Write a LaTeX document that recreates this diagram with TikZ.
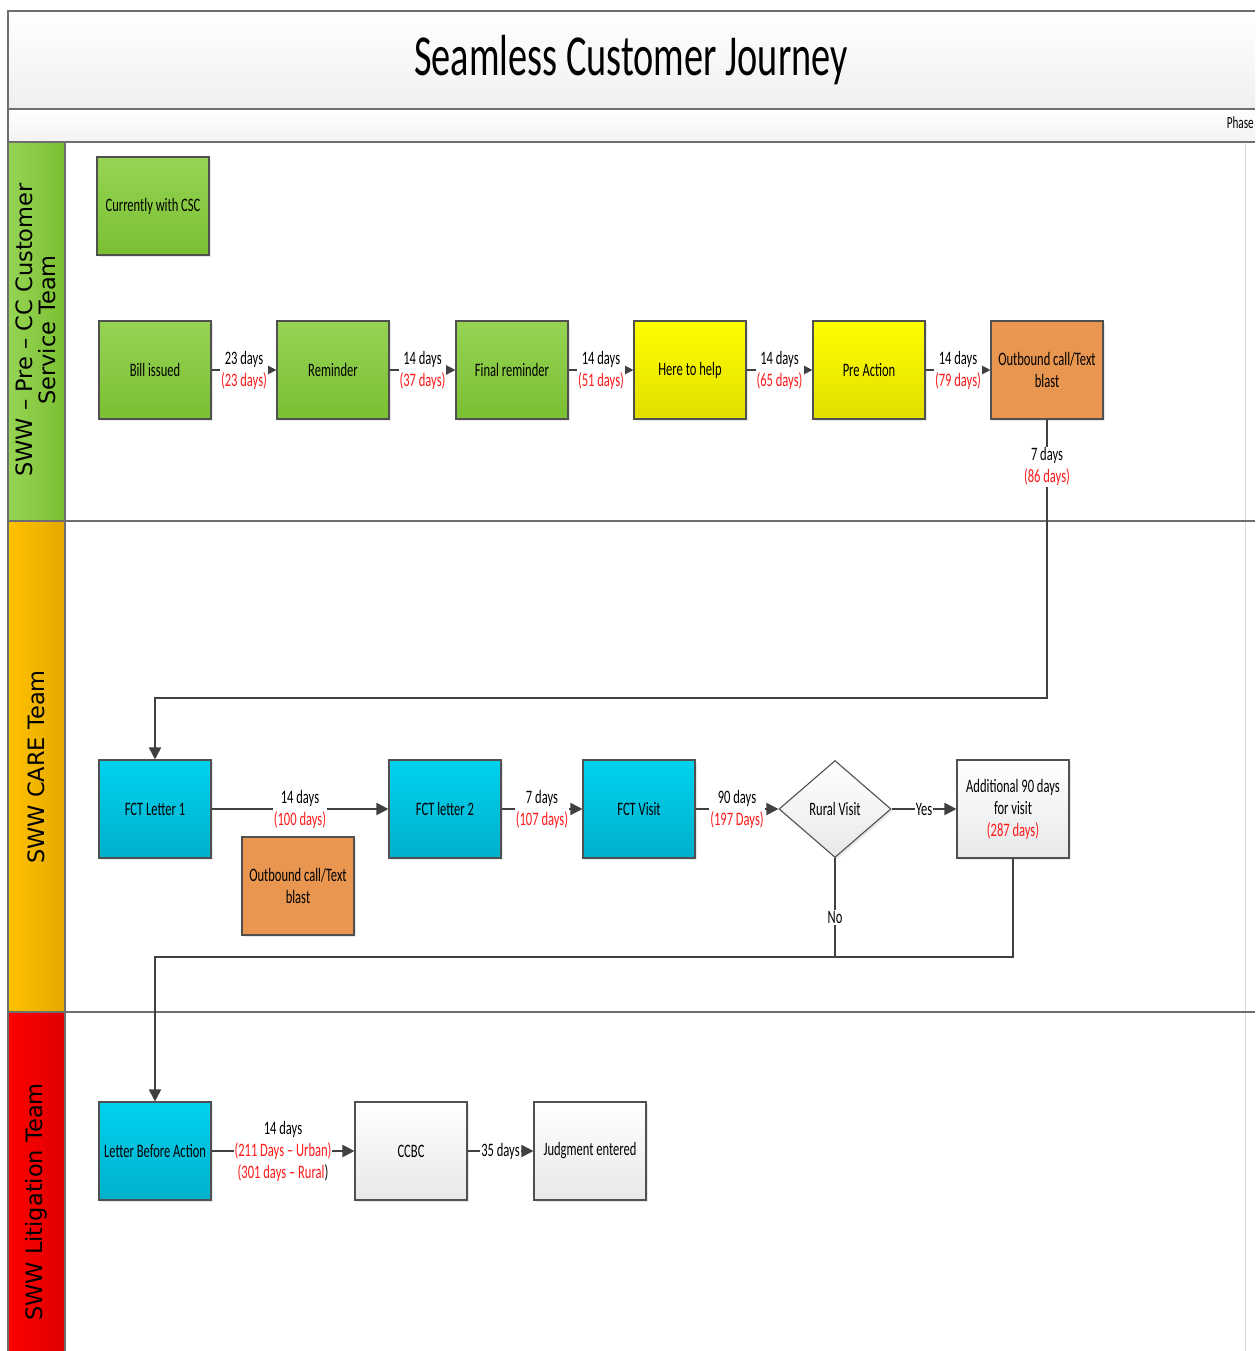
\documentclass[tikz,border=0pt]{standalone}
\usepackage{fontspec}
\setmainfont{Carlito}[FakeStretch=0.66]
\newfontfamily\lanefont{DejaVu Sans}
\usetikzlibrary{arrows.meta,shapes.geometric,shadows}
\definecolor{linegray}{RGB}{64,64,64}
\definecolor{boxgray}{RGB}{80,80,80}
\definecolor{framegray}{RGB}{110,110,110}
\definecolor{greentop}{RGB}{150,212,84}
\definecolor{greenbot}{RGB}{122,192,50}
\definecolor{yellowtop}{RGB}{255,255,0}
\definecolor{yellowbot}{RGB}{226,222,0}
\definecolor{orangebox}{RGB}{233,150,80}
\definecolor{cyantop}{RGB}{0,210,238}
\definecolor{cyanbot}{RGB}{0,176,204}
\definecolor{graybot}{RGB}{232,232,232}
\definecolor{daysred}{RGB}{255,25,25}
\newcommand\redday[1]{{\color{daysred}#1}}
\begin{document}
\begin{tikzpicture}[
  x=1pt, y=-1pt,
  font=\fontsize{19}{22}\selectfont,
  box/.style={draw=boxgray, line width=1.1pt, minimum width=112pt,
    minimum height=98pt, align=center, inner sep=2pt,
    drop shadow={opacity=0.18, shadow xshift=2pt, shadow yshift=-2pt}},
  greenbox/.style={box, top color=greentop, bottom color=greenbot},
  yellowbox/.style={box, top color=yellowtop, bottom color=yellowbot},
  orangebox/.style={box, fill=orangebox},
  cyanbox/.style={box, top color=cyantop, bottom color=cyanbot},
  graybox/.style={box, top color=white, bottom color=graybot},
  decision/.style={box, diamond, minimum width=112pt, minimum height=97pt},
  flow/.style={draw=linegray, line width=1.8pt, -{Triangle[length=12pt,width=12pt]}},
  plain/.style={draw=linegray, line width=1.8pt},
  days/.style={fill=white, inner sep=1pt, align=center},
  frame/.style={draw=framegray, line width=1.6pt},
  lanetext/.style={rotate=90, align=center, font=\lanefont\fontsize{22.5}{23.5}\selectfont}]

  \useasboundingbox[fill=white] (0,0) rectangle (1255,1351);

  % title and phase bands
  \fill[top color=white, bottom color=gray!12] (8,11) rectangle (1255,109);
  \fill[top color=white, bottom color=gray!10] (8,109) rectangle (1255,142);
  \node (title) at (631,60) {\fontsize{58}{60}\selectfont Seamless Customer Journey};
  \node[anchor=east, inner sep=1pt] (phase) at (1255,123) {\fontsize{17}{20}\selectfont Phase};
  \draw[gray!30, line width=0.8pt] (1245,142) -- (1245,1351);

  % lanes
  \draw[frame, left color=greentop, right color=greenbot] (8,142) rectangle (65,521);
  \draw[frame, left color={rgb,255:red,255;green,194;blue,0}, right color={rgb,255:red,228;green,168;blue,0}] (8,521) rectangle (65,1012);
  \draw[frame, left color={rgb,255:red,255;green,0;blue,0}, right color={rgb,255:red,222;green,0;blue,0}] (8,1012) rectangle (65,1360);
  \node[lanetext] (lane1) at (36,330) {SWW – Pre – CC Customer\\Service Team};
  \node[lanetext] (lane2) at (36,767) {SWW CARE Team};
  \node[lanetext] (lane3) at (36,1202) {SWW Litigation Team};
  \draw[frame] (1255,11) -- (8,11) -- (8,1360);
  \draw[frame] (8,109) -- (1255,109);
  \draw[frame] (8,142) -- (1255,142);
  \draw[frame] (65,521) -- (1255,521);
  \draw[frame] (65,1012) -- (1255,1012);

  % customer service lane
  \node[greenbox] (csc) at (153,206) {Currently with CSC};
  \node[greenbox] (bill) at (155,370) {Bill issued};
  \node[greenbox] (remind) at (333,370) {Reminder};
  \node[greenbox] (finalrem) at (512,370) {Final reminder};
  \node[yellowbox] (help) at (690,370) {Here to help};
  \node[yellowbox] (preact) at (869,370) {Pre Action};
  \node[orangebox] (outcall) at (1047,370) {Outbound call/Text\\blast};

  \draw[flow] (bill) -- node[days] {23 days\\\redday{(23 days)}} (remind);
  \draw[flow] (remind) -- node[days] {14 days\\\redday{(37 days)}} (finalrem);
  \draw[flow] (finalrem) -- node[days] {14 days\\\redday{(51 days)}} (help);
  \draw[flow] (help) -- node[days] {14 days\\\redday{(65 days)}} (preact);
  \draw[flow] (preact) -- node[days] {14 days\\\redday{(79 days)}} (outcall);

  % care lane
  \node[cyanbox] (fct1) at (155,809) {FCT Letter 1};
  \node[cyanbox] (fct2) at (445,809) {FCT letter 2};
  \node[cyanbox] (visit) at (639,809) {FCT Visit};
  \node[decision, top color=white, bottom color=graybot] (rural) at (835,809) {Rural Visit};
  \node[graybox] (extra) at (1013,809) {Additional 90 days\\for visit\\\redday{(287 days)}};
  \node[orangebox] (outcall2) at (298,886) {Outbound call/Text\\blast};

  \coordinate (turn1) at (1047,698);
  \coordinate (join) at (155,957);
  \draw[flow] (outcall) -- node[days, pos=0.17] {7 days\\\redday{(86 days)}} (turn1) -| (fct1);
  \draw[flow] (fct1) -- node[days] {14 days\\\redday{(100 days)}} (fct2);
  \draw[flow] (fct2) -- node[days] {7 days\\\redday{(107 days)}} (visit);
  \draw[flow] (visit) -- node[days] {90 days\\\redday{(197 Days)}} (rural);
  \draw[flow] (rural) -- node[days] {Yes} (extra);
  \draw[plain] (rural) -- node[days, pos=0.6] {No} (rural |- join);

  % litigation lane
  \node[cyanbox] (lba) at (155,1151) {Letter Before Action};
  \node[graybox] (ccbc) at (411,1151) {CCBC};
  \node[graybox] (judgment) at (590,1151) {Judgment entered};

  \draw[flow] (extra) |- (join) -- (lba);
  \draw[flow] (lba) -- node[days] {14 days\\\redday{(211 Days – Urban)}\\\redday{(301 days – Rural})} (ccbc);
  \draw[flow] (ccbc) -- node[days] {35 days} (judgment);
\end{tikzpicture}
\end{document}
